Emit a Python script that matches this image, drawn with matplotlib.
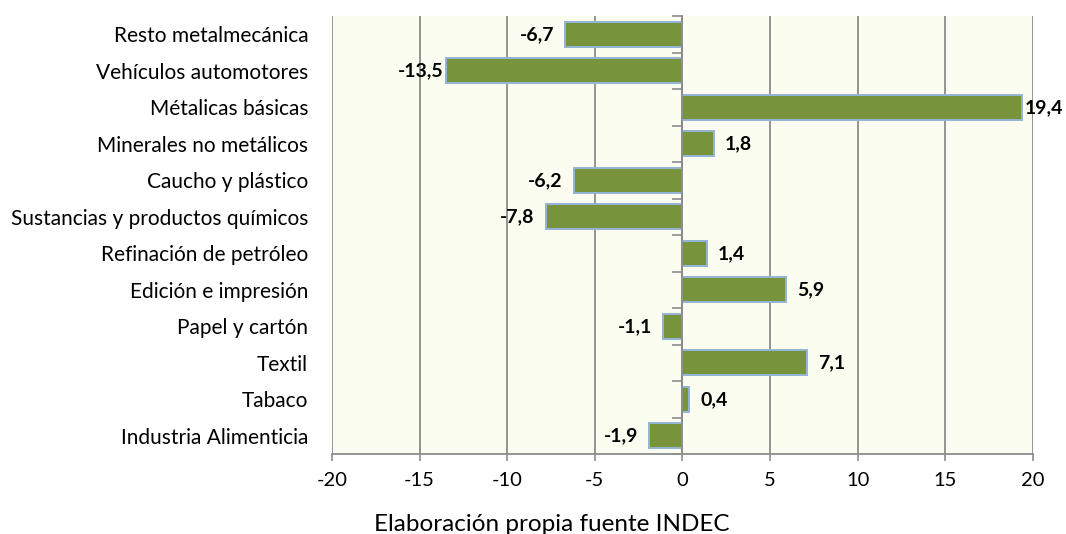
import numpy as np
import matplotlib.pyplot as plt

plt.rcParams['font.family'] = ['Lato', 'DejaVu Sans']

categorias = ['Industria Alimenticia', 'Tabaco', 'Textil', 'Papel y cartón',
              'Edición e impresión', 'Refinación de petróleo',
              'Sustancias y productos químicos', 'Caucho y plástico',
              'Minerales no metálicos', 'Métalicas básicas',
              'Vehículos automotores', 'Resto metalmecánica']
valores = [-1.9, 0.4, 7.1, -1.1, 5.9, 1.4, -7.8, -6.2, 1.8, 19.4, -13.5, -6.7]
xticks = [-20, -15, -10, -5, 0, 5, 10, 15, 20]

fig = plt.figure(figsize=(10.66, 5.34), dpi=100)
ax = fig.add_axes([0.3114, 0.1498, 0.6576, 0.8202])
ax.set_facecolor('#FBFDF0')

y = np.arange(len(categorias))
ax.barh(y, valores, height=0.68, color='#77933C', edgecolor='#95B3D7',
        linewidth=1.4, zorder=3)

# etiquetas de datos (más pegadas en las barras largas)
for yi, v in zip(y, valores):
    txt = f"{v:.1f}".replace('.', ',')
    gap = 1.5 if abs(v) > 13 else 8
    if v < 0:
        ax.annotate(txt, (v, yi), xytext=(-gap, 0), textcoords='offset points',
                    ha='right', va='center', fontsize=14, fontweight='bold', zorder=4)
    else:
        ax.annotate(txt, (v, yi), xytext=(gap, 0), textcoords='offset points',
                    ha='left', va='center', fontsize=14, fontweight='bold', zorder=4)

ax.set_xlim(-20, 20)
ax.set_ylim(-0.5, len(categorias) - 0.5)
ax.set_xticks(xticks)
ax.set_xticklabels([str(t) for t in xticks], fontsize=14.5)
ax.set_yticks(y)
ax.set_yticklabels(categorias, fontsize=15)
ax.tick_params(axis='y', length=0, pad=17)
ax.tick_params(axis='x', direction='out', length=5, width=1.2, color='#8C8C8C', pad=8)
ax.grid(axis='x', color='#8C8C8C', linewidth=1.3, zorder=1)
for s in ['top', 'right', 'left']:
    ax.spines[s].set_visible(False)
ax.spines['bottom'].set_color('#8C8C8C')
ax.spines['bottom'].set_linewidth(1.3)

# eje vertical en cero con marcas entre categorías
ax2 = ax.twinx()
ax2.set_ylim(ax.get_ylim())
for s in ['top', 'right', 'bottom']:
    ax2.spines[s].set_visible(False)
ax2.spines['left'].set_position(('data', 0))
ax2.spines['left'].set_color('#8C8C8C')
ax2.spines['left'].set_linewidth(1.3)
ax2.yaxis.set_ticks_position('left')
ax2.set_yticks(np.arange(-0.5, len(categorias), 1.0))
ax2.set_yticklabels([])
ax2.tick_params(axis='y', direction='out', length=7, width=1.2, color='#8C8C8C')
ax2.set_zorder(ax.get_zorder() + 1)
ax2.patch.set_visible(False)

fig.text(0.518, 0.006, 'Elaboración propia fuente INDEC', ha='center',
         va='baseline', fontsize=17.5)

fig.savefig('out.png', dpi=100)
